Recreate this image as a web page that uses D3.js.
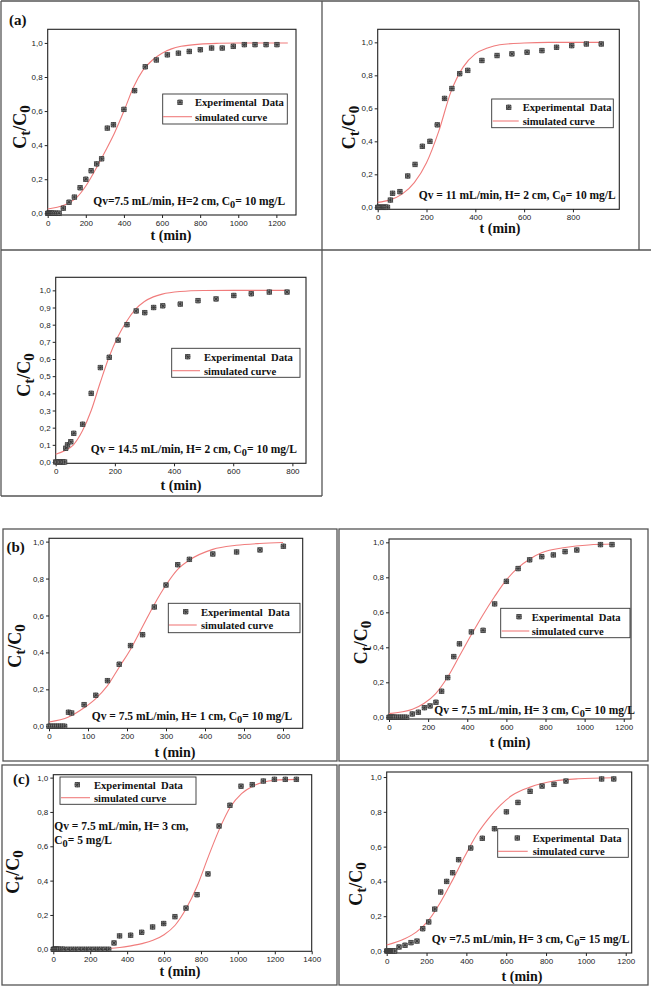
<!DOCTYPE html>
<html><head><meta charset="utf-8">
<script src="https://cdn.jsdelivr.net/npm/d3@7"></script>
<style>body{margin:0;background:#fff} svg{display:block}</style>
</head><body>
<svg id="fig" width="651" height="987"></svg>
<script>
// ================= DATA =================
// (a) Qv=7.5, H=2, C0=10
const a1ExpT = [0,5,10,15,20,25,30,40,50,60,82,112,140,170,200,228,257,283,313,345,400,456,512,570,628,686,743,801,860,916,974,1032,1088,1146,1203];
const a1ExpY = [0,0,0,0,0,0,0,0,0,0,0.03,0.065,0.095,0.15,0.2,0.25,0.29,0.32,0.50,0.52,0.61,0.72,0.86,0.90,0.93,0.94,0.95,0.96,0.97,0.97,0.98,0.99,0.99,0.99,0.99];
const a1SimT = [0,50,100,150,200,250,300,350,400,450,500,550,600,650,700,800,900,1000,1260];
const a1SimY = [0.025,0.035,0.055,0.09,0.16,0.255,0.36,0.47,0.6,0.74,0.84,0.9,0.94,0.965,0.98,0.993,0.998,1,1];
// (a) Qv=11, H=2, C0=10
const a2ExpT = [0,5,10,15,20,25,30,35,40,52,61,91,123,153,183,214,244,274,304,336,369,427,489,550,612,673,733,795,855,916];
const a2ExpY = [0,0,0,0,0,0,0,0,0,0.044,0.085,0.095,0.19,0.26,0.37,0.40,0.50,0.66,0.72,0.81,0.83,0.89,0.92,0.93,0.94,0.95,0.97,0.98,0.99,0.99];
const a2SimT = [0,50,100,150,200,250,300,350,400,450,500,600,700,920];
const a2SimY = [0.03,0.045,0.08,0.15,0.27,0.46,0.7,0.85,0.93,0.965,0.985,0.996,1,1];
// (a) Qv=14.5, H=2, C0=10
const a3ExpT = [0,5,10,15,20,25,30,34,40,51,61,91,120,151,181,211,241,272,301,331,362,421,481,542,602,661,722,782];
const a3ExpY = [0,0,0,0,0,0,0,0.08,0.10,0.118,0.167,0.22,0.40,0.55,0.61,0.71,0.80,0.88,0.87,0.90,0.91,0.92,0.94,0.95,0.97,0.98,0.99,0.99];
const a3SimT = [0,30,60,90,120,150,180,210,240,270,300,330,360,420,500,600,780];
const a3SimY = [0.045,0.065,0.1,0.18,0.3,0.46,0.61,0.73,0.82,0.89,0.935,0.962,0.978,0.993,0.999,1,1];
// (b) Qv=7.5, H=1, C0=10
const b1ExpT = [0,5,10,15,20,25,30,35,40,50,58,90,120,150,180,209,240,270,300,330,360,420,481,541,601];
const b1ExpY = [0,0,0,0,0,0,0,0,0,0.076,0.072,0.117,0.168,0.247,0.336,0.437,0.496,0.646,0.765,0.875,0.904,0.933,0.944,0.955,0.975];
const b1SimT = [0,50,90,120,150,180,210,240,270,300,330,360,420,480,540,600];
const b1SimY = [0.023,0.05,0.1,0.15,0.22,0.32,0.42,0.54,0.66,0.765,0.85,0.9,0.958,0.98,0.99,0.995];
// (b) Qv=7.5, H=3, C0=10
const b2ExpT = [0,5,10,15,20,25,30,40,50,60,70,80,90,119,150,181,210,240,269,300,331,360,421,481,540,600,660,719,781,840,900,960,1081,1140];
const b2ExpY = [0,0,0,0,0,0,0,0,0,0,0,0,0,0.019,0.029,0.055,0.065,0.086,0.149,0.227,0.347,0.42,0.488,0.497,0.648,0.777,0.85,0.90,0.918,0.928,0.947,0.956,0.987,0.987];
const b2SimT = [0,120,180,240,300,360,420,480,540,600,660,720,780,900,1020,1150];
const b2SimY = [0.021,0.046,0.08,0.137,0.23,0.35,0.47,0.585,0.69,0.785,0.855,0.905,0.94,0.97,0.985,0.99];
// (c) Qv=7.5, H=3, C0=5
const c1ExpT = [0,5,10,15,20,25,30,40,50,60,80,100,120,140,160,180,200,220,240,260,280,300,329,359,419,479,538,598,659,719,779,838,898,957,1017,1078,1138,1198,1257,1317];
const c1ExpY = [0,0,0,0,0,0,0,0,0,0,0,0,0,0,0,0,0,0,0,0,0,0,0.037,0.078,0.082,0.099,0.13,0.15,0.19,0.24,0.318,0.439,0.718,0.839,0.95,0.959,0.98,0.99,0.99,0.99];
const c1SimT = [0,200,300,360,420,480,540,600,660,720,780,840,900,960,1020,1080,1140,1200,1320];
const c1SimY = [0,0.002,0.005,0.01,0.02,0.033,0.052,0.085,0.14,0.237,0.37,0.54,0.70,0.83,0.907,0.95,0.975,0.985,0.99];
// (c) Qv=7.5, H=3, C0=15
const c2ExpT = [0,5,10,15,20,25,30,35,40,62,92,122,152,181,211,241,271,301,331,361,422,480,541,601,659,720,780,840,900,1079,1140];
const c2ExpY = [0,0,0,0,0,0,0,0,0,0.023,0.033,0.048,0.057,0.128,0.167,0.241,0.339,0.40,0.45,0.525,0.592,0.648,0.703,0.80,0.854,0.918,0.948,0.958,0.977,0.989,0.989];
const c2SimT = [0,90,150,210,270,330,390,450,510,570,630,720,840,960,1140];
const c2SimY = [0.034,0.07,0.11,0.176,0.28,0.406,0.54,0.665,0.76,0.837,0.895,0.942,0.977,0.99,0.996];

// tick labels
const xTicks1200 = [0,200,400,600,800,1000,1200];
const xTicks800 = [0,200,400,600,800];
const xTicks600 = [0,100,200,300,400,500,600];
const xTicks1400 = [0,200,400,600,800,1000,1200,1400];
const yTicksFine = [0,0.1,0.2,0.3,0.4,0.5,0.6,0.7,0.8,0.9,1.0];
const yTicksCoarse = [0,0.2,0.4,0.6,0.8,1.0];

// texts
const legendLabels = ["Experimental  Data", "simulated curve"];
const xTitle = "t (min)";
const noteA1 = ["Qv=7.5 mL/min, H=2 cm, C", "0", "= 10 mg/L"];
const noteA2 = ["Qv = 11 mL/min, H= 2 cm, C", "0", "= 10 mg/L"];
const noteA3 = ["Qv = 14.5 mL/min, H= 2 cm, C", "0", "= 10 mg/L"];
const noteB1 = ["Qv = 7.5 mL/min, H= 1 cm, C", "0", "= 10 mg/L"];
const noteB2 = ["Qv = 7.5 mL/min, H= 3 cm, C", "0", "= 10 mg/L"];
const noteC1a = ["Qv = 7.5 mL/min, H= 3 cm,"];
const noteC1b = ["C", "0", "= 5 mg/L"];
const noteC2 = ["Qv =7.5 mL/min, H= 3 cm, C", "0", "= 15 mg/L"];

// ================= LAYOUT =================
const panels = [
 {exp:[a1ExpT,a1ExpY], sim:[a1SimT,a1SimY], xt:xTicks1200, yt:yTicksCoarse,
  f:{l:47.7,r:296,t:29.3,b:215}, xd:[0,1303], yd:[-0.01,1.08],
  lg:{x1:162.7,y1:94,x2:287.3,y2:124,mx:180,my:102.3,tx:195,lx1:163,lx2:192,ly:116.7},
  notes:[{p:noteA1,x:93.3,y:205}], xT:{x:171,y:240}, yT:{x:26,y:127}},
 {exp:[a2ExpT,a2ExpY], sim:[a2SimT,a2SimY], xt:xTicks800, yt:yTicksCoarse,
  f:{l:377.7,r:619.3,t:29.3,b:209.3}, xd:[0,990], yd:[-0.012,1.079],
  lg:{x1:491.7,y1:99,x2:613.3,y2:127.7,mx:508.7,my:107.3,tx:522.7,lx1:492.7,lx2:518.7,ly:121},
  notes:[{p:noteA2,x:418.7,y:199}], xT:{x:500,y:233}, yT:{x:355,y:127.5}},
 {exp:[a3ExpT,a3ExpY], sim:[a3SimT,a3SimY], xt:xTicks800, yt:yTicksFine,
  f:{l:55.7,r:306,t:277.3,b:463.3}, xd:[0,846], yd:[-0.0076,1.076],
  lg:{x1:171.7,y1:348.3,x2:300,y2:377.3,mx:187.7,my:356.7,tx:204,lx1:172.3,lx2:200,ly:370.7},
  notes:[{p:noteA3,x:90.7,y:453}], xT:{x:181,y:490}, yT:{x:30,y:375}},
 {exp:[b1ExpT,b1ExpY], sim:[b1SimT,b1SimY], xt:xTicks600, yt:yTicksCoarse,
  f:{l:49,r:302.7,t:538.3,b:728.3}, xd:[0,650.5], yd:[-0.011,1.018],
  lg:{x1:168.3,y1:603.3,x2:300,y2:632.7,mx:185.7,my:611.7,tx:201,lx1:169,lx2:196.7,ly:625},
  notes:[{p:noteB1,x:91.7,y:720}], xT:{x:175,y:757}, yT:{x:21,y:646}},
 {exp:[b2ExpT,b2ExpY], sim:[b2SimT,b2SimY], xt:xTicks1200, yt:yTicksCoarse,
  f:{l:389,r:631,t:539,b:719}, xd:[0,1237], yd:[-0.0097,1.019],
  lg:{x1:500.7,y1:608.3,x2:630,y2:637.7,mx:519,my:616.7,tx:531.7,lx1:501.7,lx2:529.3,ly:631},
  notes:[{p:noteB2,x:434.3,y:713.5}], xT:{x:510,y:747}, yT:{x:367,y:642.5}},
 {exp:[c1ExpT,c1ExpY], sim:[c1SimT,c1SimY], xt:xTicks1400, yt:yTicksCoarse,
  f:{l:53.3,r:311.7,t:774.7,b:951.3}, xd:[0,1400], yd:[-0.0117,1.017],
  lg:{x1:60,y1:777,x2:196,y2:804.3,mx:77.3,my:784.7,tx:94,lx1:61,lx2:90,ly:797.7},
  notes:[{p:noteC1a,x:54.3,y:830},{p:noteC1b,x:54.3,y:843.5}], xT:{x:180,y:976}, yT:{x:19,y:872}},
 {exp:[c2ExpT,c2ExpY], sim:[c2SimT,c2SimY], xt:xTicks1200, yt:yTicksCoarse,
  f:{l:386.7,r:631.7,t:772,b:953}, xd:[0,1230], yd:[-0.0115,1.029],
  lg:{x1:497.7,y1:828.7,x2:628.3,y2:857.3,mx:517.3,my:838,tx:532.7,lx1:498,lx2:527.7,ly:851.3},
  notes:[{p:noteC2,x:431.7,y:943}], xT:{x:522,y:981}, yT:{x:362,y:884}}
];

const letters = [{t:"(a)",x:9,y:25},{t:"(b)",x:6.5,y:551.5},{t:"(c)",x:13,y:784}];

const SERIF = "'Liberation Serif','Times New Roman',serif";
const SANS = "'Liberation Sans',Arial,sans-serif";
const CURVE = "#f07c7c";
const MARK = "M-2.2,-2.2h4.4v4.4h-4.4z M-2.2,-2.2L2.2,2.2 M2.2,-2.2L-2.2,2.2 M0,-2.6V2.6 M-2.6,0H2.6";
const svg = d3.select("#fig");

// panel borders
const borderG = svg.append("g").attr("fill","none").attr("stroke","#555").attr("stroke-width",1.3);
const borderLines = [
 [1,1,639,1],[1,1,1,496],[322,1,322,496],[639,1,639,250],[1,250,651,250],[1,496,322,496]
];
borderLines.forEach(l=>borderG.append("line").attr("x1",l[0]).attr("y1",l[1]).attr("x2",l[2]).attr("y2",l[3]));
[[3,529,337,761],[339,529,648,761],[2,765,337,985],[339,765,648,985]].forEach(r=>
  borderG.append("rect").attr("x",r[0]).attr("y",r[1]).attr("width",r[2]-r[0]).attr("height",r[3]-r[1]));

const fmt = d => d3.format(".1f")(d).replace(".", ",");

function subText(sel, parts, size) {
  sel.append("tspan").text(parts[0]);
  if (parts.length > 1) {
    sel.append("tspan").attr("dy", size*0.28).attr("font-size", size*0.9).text(parts[1]);
    sel.append("tspan").attr("dy", -size*0.28).text(parts[2]);
  }
}

panels.forEach(p => {
  const g = svg.append("g");
  const x = d3.scaleLinear().domain(p.xd).range([p.f.l, p.f.r]);
  const y = d3.scaleLinear().domain(p.yd).range([p.f.b, p.f.t]);

  const xa = g.append("g").attr("transform",`translate(0,${p.f.b})`)
    .call(d3.axisBottom(x).tickValues(p.xt).tickSize(3).tickPadding(2).tickFormat(d3.format("d")));
  const ya = g.append("g").attr("transform",`translate(${p.f.l},0)`)
    .call(d3.axisLeft(y).tickValues(p.yt).tickSize(3).tickPadding(2).tickFormat(fmt));
  [xa,ya].forEach(a=>{
    a.select(".domain").remove();
    a.selectAll("line").attr("stroke","#222");
    a.selectAll("text").attr("font-family",SANS).attr("font-size",8).attr("fill","#222");
  });
  g.append("rect").attr("x",p.f.l).attr("y",p.f.t).attr("width",p.f.r-p.f.l).attr("height",p.f.b-p.f.t)
    .attr("fill","none").attr("stroke","#222").attr("stroke-width",1.1);

  const simPts = d3.zip(p.sim[0], p.sim[1]);
  g.append("path").datum(simPts)
    .attr("d", d3.line().x(d=>x(d[0])).y(d=>y(d[1])).curve(d3.curveMonotoneX))
    .attr("fill","none").attr("stroke",CURVE).attr("stroke-width",1.1);

  const expPts = d3.zip(p.exp[0], p.exp[1]);
  g.append("g").selectAll("path").data(expPts).join("path")
    .attr("transform", d=>`translate(${x(d[0])},${y(d[1])})`)
    .attr("d", MARK).attr("fill","#bbb").attr("stroke","#333").attr("stroke-width",0.8);

  const L = p.lg;
  g.append("rect").attr("x",L.x1).attr("y",L.y1).attr("width",L.x2-L.x1).attr("height",L.y2-L.y1)
    .attr("fill","#fff").attr("stroke","#333").attr("stroke-width",0.9);
  g.append("path").attr("transform",`translate(${L.mx},${L.my})`).attr("d",MARK)
    .attr("fill","#bbb").attr("stroke","#333").attr("stroke-width",0.8);
  g.append("line").attr("x1",L.lx1).attr("x2",L.lx2).attr("y1",L.ly).attr("y2",L.ly)
    .attr("stroke",CURVE).attr("stroke-width",1.1);
  g.append("text").attr("x",L.tx).attr("y",L.my+3.8).text(legendLabels[0])
    .attr("font-family",SERIF).attr("font-weight","bold").attr("font-size",10.6).attr("fill","#111")
    .attr("style","white-space:pre");
  g.append("text").attr("x",L.tx).attr("y",L.ly+3.8).text(legendLabels[1])
    .attr("font-family",SERIF).attr("font-weight","bold").attr("font-size",10.6).attr("fill","#111");

  p.notes.forEach(n=>{
    const t = g.append("text").attr("x",n.x).attr("y",n.y)
      .attr("font-family",SERIF).attr("font-weight","bold").attr("font-size",11.5).attr("fill","#111");
    subText(t, n.p, 11.5);
  });

  g.append("text").attr("x",p.xT.x).attr("y",p.xT.y).attr("text-anchor","middle")
    .attr("font-family",SERIF).attr("font-weight","bold").attr("font-size",14).attr("fill","#111").text(xTitle);
  const yt = g.append("text").attr("transform",`translate(${p.yT.x},${p.yT.y}) rotate(-90)`)
    .attr("text-anchor","middle").attr("font-family",SERIF).attr("font-weight","bold")
    .attr("font-size",18).attr("fill","#111");
  yt.append("tspan").text("C");
  yt.append("tspan").attr("dy",4).attr("font-size",15).text("t");
  yt.append("tspan").attr("dy",-4).text("/C");
  yt.append("tspan").attr("dy",4).attr("font-size",15).text("0");
});

letters.forEach(l=>svg.append("text").attr("x",l.x).attr("y",l.y).text(l.t)
  .attr("font-family",SERIF).attr("font-weight","bold").attr("font-size",15).attr("fill","#111"));
</script>
</body></html>
